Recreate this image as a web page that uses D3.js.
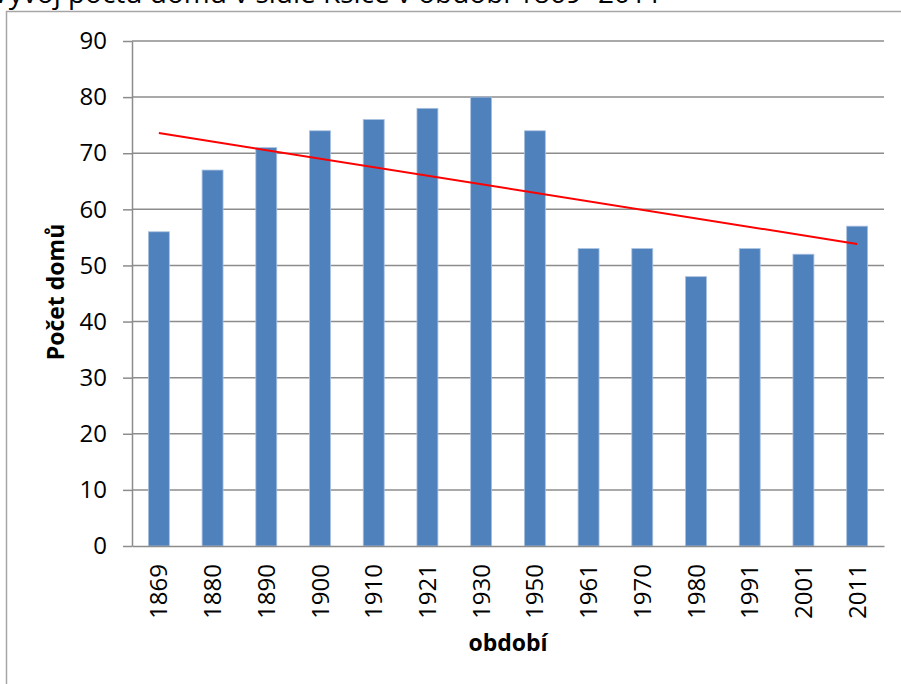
<!DOCTYPE html>
<html>
<head>
<meta charset="utf-8">
<script src="https://cdn.jsdelivr.net/npm/d3@7"></script>
<style>
  html, body { margin: 0; padding: 0; background: #fff; }
  svg { display: block; font-family: "Open Sans", sans-serif; }
</style>
</head>
<body>
<svg id="chart" width="901" height="684"></svg>
<script>
const categories = ["1869","1880","1890","1900","1910","1921","1930","1950","1961","1970","1980","1991","2001","2011"];
const values = [56, 67, 71, 74, 76, 78, 80, 74, 53, 53, 48, 53, 52, 57];
const yTicks = [0, 10, 20, 30, 40, 50, 60, 70, 80, 90];
const titleText = "Vývoj počtu domů v sídle Ksice v období 1869 -2011";
const yTitle = "Počet domů";
const xTitle = "období";

const svg = d3.select("#chart");
const m = { left: 132, right: 884, top: 41, bottom: 546 };

// outer chart border
svg.append("rect").attr("x", 6.5).attr("y", 11.5).attr("width", 920).attr("height", 700)
  .attr("fill", "none").attr("stroke", "#a6a6a6").attr("stroke-width", 1.5);

// title (cut off at top, as in the reference)
svg.append("text").attr("x", 662).attr("y", 3).attr("text-anchor", "end")
  .attr("font-size", 28).attr("fill", "#000")
  .text(titleText);

const x = d3.scaleBand().domain(categories).range([m.left, m.right]).paddingInner(0.61).paddingOuter(0.305);
const y = d3.scaleLinear().domain([0, 90]).range([m.bottom, m.top]);

// gridlines
svg.append("g").selectAll("line").data(yTicks.filter(d => d > 0)).join("line")
  .attr("x1", m.left).attr("x2", m.right)
  .attr("y1", d => y(d)).attr("y2", d => y(d))
  .attr("stroke", "#8c8c8c").attr("stroke-width", 1.5);

// bars
svg.append("g").selectAll("rect").data(values).join("rect")
  .attr("x", (d, i) => x(categories[i]))
  .attr("y", d => y(d))
  .attr("width", x.bandwidth())
  .attr("height", d => y(0) - y(d))
  .attr("fill", "#4F81BD")
  .attr("stroke", "#a9c1e0").attr("stroke-width", 0.8);

// y axis
const yAxis = d3.axisLeft(y).tickValues(yTicks).tickSize(9).tickPadding(16).tickSizeOuter(0);
const gy = svg.append("g").attr("transform", `translate(${m.left},0)`).call(yAxis);
gy.select(".domain").attr("stroke", "#8c8c8c").attr("stroke-width", 1.5);
gy.selectAll(".tick line").attr("stroke", "#8c8c8c").attr("stroke-width", 1.5);
gy.selectAll(".tick text").attr("font-size", 24).attr("fill", "#000")
  .attr("font-family", "Open Sans, sans-serif");

// x axis
const xAxis = d3.axisBottom(x).tickSize(0).tickSizeOuter(0);
const gx = svg.append("g").attr("transform", `translate(0,${m.bottom})`).call(xAxis);
gx.select(".domain").attr("stroke", "#8c8c8c").attr("stroke-width", 1.5);
gx.selectAll(".tick text")
  .attr("font-size", 24).attr("fill", "#000").attr("font-family", "Open Sans, sans-serif")
  .attr("text-anchor", "end")
  .attr("transform", "rotate(-90)")
  .attr("x", -18).attr("y", 0).attr("dy", "0.36em");

// linear trendline (least squares over category index)
const n = values.length;
const xs = d3.range(1, n + 1);
const mx = d3.mean(xs), my = d3.mean(values);
const slope = d3.sum(xs, (xi, i) => (xi - mx) * (values[i] - my)) / d3.sum(xs, xi => (xi - mx) ** 2);
const icpt = my - slope * mx;
const trend = [1, n].map(k => ({ c: categories[k - 1], v: icpt + slope * k }));
svg.append("path")
  .attr("d", d3.line().x(d => x(d.c) + x.bandwidth() / 2).y(d => y(d.v))(trend))
  .attr("stroke", "#FF0000").attr("stroke-width", 2).attr("fill", "none");

// axis titles
svg.append("text").attr("transform", "translate(64,292) rotate(-90)")
  .attr("text-anchor", "middle").attr("font-size", 23).attr("font-weight", "bold")
  .text(yTitle);
svg.append("text").attr("x", 508).attr("y", 651)
  .attr("text-anchor", "middle").attr("font-size", 23).attr("font-weight", "bold")
  .text(xTitle);
</script>
</body>
</html>
